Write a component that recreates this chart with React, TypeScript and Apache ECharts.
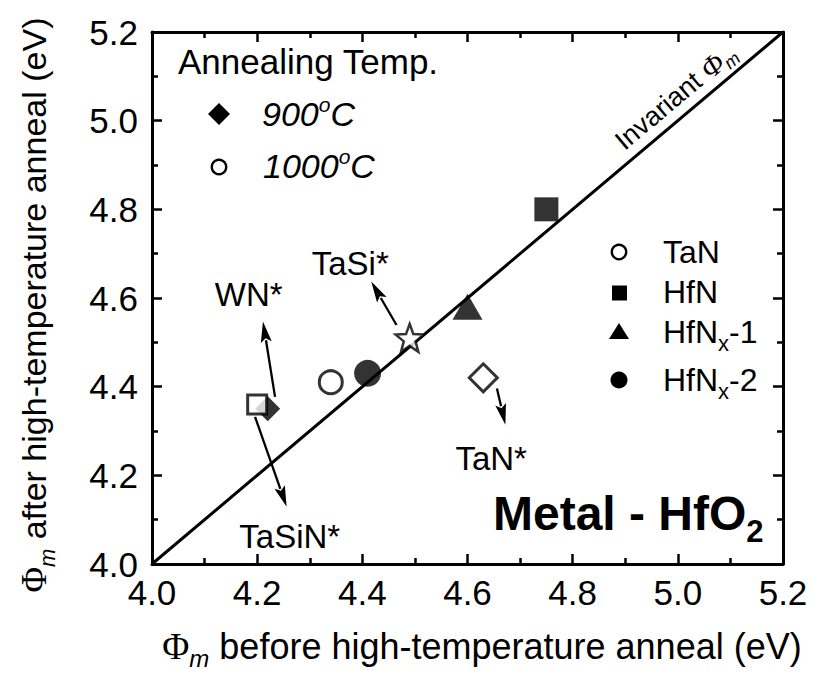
import React, { useEffect, useRef } from "react";
import * as echarts from "echarts";

// ---- data ----
const axisMin = 4.0;
const axisMax = 5.2;
const tickStep = 0.2;

const taN = [[4.34, 4.41]];
const hfN = [[4.75, 4.8]];
const hfNx1 = [[4.6, 4.58]];
const hfNx2 = [[4.41, 4.43]];
const wnStar = [[4.22, 4.35]];
const tasinStar = [[4.2, 4.36]];
const tasiStar = [[4.49, 4.51]];
const tanStar = [[4.63, 4.42]];
const invariantLine = [[4.0, 4.0], [5.2, 5.2]];
const invariantLabelAt = [5.02, 5.02];

// arrows: [fromX, fromY, toX, toY]
const arrowSegs = [
  [4.234, 4.377, 4.211, 4.547],
  [4.196, 4.332, 4.256, 4.129],
  [4.465, 4.539, 4.417, 4.637],
  [4.656, 4.396, 4.672, 4.314],
];
const noteLabels = ["WN*", "TaSiN*", "TaSi*", "TaN*"];
const notePos = [
  [4.184, 4.607],
  [4.262, 4.061],
  [4.377, 4.677],
  [4.645, 4.237],
];

const SANS = "'Liberation Sans', Arial, Helvetica, sans-serif";
const SERIF = "'Liberation Serif', 'Times New Roman', serif";

function starPath(): string {
  const pts: string[] = [];
  for (let i = 0; i < 10; i++) {
    const a = -Math.PI / 2 + (i * Math.PI) / 5;
    const r = i % 2 === 0 ? 50 : 21;
    pts.push(`${(50 + r * Math.cos(a)).toFixed(2)} ${(50 + r * Math.sin(a)).toFixed(2)}`);
  }
  return "path://M" + pts.join(" L") + " Z";
}

function axis(showLabel: boolean, position: string, isY: boolean) {
  return {
    type: "value",
    min: axisMin,
    max: axisMax,
    interval: tickStep,
    position,
    axisLine: { show: true, onZero: false, lineStyle: { color: "#000", width: 3 } },
    axisTick: { show: true, inside: true, length: 10, lineStyle: { color: "#000", width: 2.5 } },
    minorTick: { show: true, splitNumber: 2, length: 6, lineStyle: { color: "#000", width: 2.5 } },
    splitLine: { show: false },
    minorSplitLine: { show: false },
    axisLabel: {
      show: showLabel,
      fontSize: 35,
      fontFamily: SANS,
      color: "#000",
      margin: isY ? 14 : 11,
      formatter: (v: number) => v.toFixed(1),
    },
  };
}

const openStyle = { color: "#fff", borderColor: "#000", borderWidth: 3 };
const fillStyle = { color: "#000" };

function titleRich(size: number) {
  return {
    p: { fontSize: size + 1, fontFamily: SERIF, lineHeight: 48 },
    m: { fontSize: Math.round(size * 0.66), fontFamily: SANS, fontStyle: "italic", lineHeight: 18, verticalAlign: "bottom" },
  };
}

export default function App() {
  const ref = useRef<HTMLDivElement>(null);
  useEffect(() => {
    if (!ref.current) return;
    const chart = echarts.init(ref.current, undefined, { renderer: "svg" });
    const option: any = {
      animation: false,
      backgroundColor: "#fff",
      grid: { left: 152, right: 30, top: 32, bottom: 113, containLabel: false, outerBoundsMode: "none" },
      xAxis: [axis(true, "bottom", false), axis(false, "top", false)],
      yAxis: [axis(true, "left", true), axis(false, "right", true)],
      series: [
        {
          name: "Invariant",
          type: "line",
          data: invariantLine,
          symbol: "none",
          lineStyle: { color: "#000", width: 3 },
          z: 1,
          silent: true,
        },
        {
          name: "arrows",
          type: "custom",
          data: arrowSegs,
          encode: { x: [0, 2], y: [1, 3] },
          z: 2,
          silent: true,
          renderItem: (params: any, api: any) => {
            const p1 = api.coord([api.value(0), api.value(1)]);
            const p2 = api.coord([api.value(2), api.value(3)]);
            const dx = p2[0] - p1[0];
            const dy = p2[1] - p1[1];
            const len = Math.hypot(dx, dy);
            const ux = dx / len;
            const uy = dy / len;
            const headLen = 21;
            const headW = 5.5;
            const bx = p2[0] - ux * headLen;
            const by = p2[1] - uy * headLen;
            return {
              type: "group",
              children: [
                {
                  type: "line",
                  shape: { x1: p1[0], y1: p1[1], x2: bx + ux * 2, y2: by + uy * 2 },
                  style: { stroke: "#000", lineWidth: 2.3 },
                },
                {
                  type: "polygon",
                  shape: {
                    points: [
                      [p2[0], p2[1]],
                      [bx - uy * headW, by + ux * headW],
                      [bx + ux * 4, by + uy * 4],
                      [bx + uy * headW, by - ux * headW],
                    ],
                  },
                  style: { fill: "#000" },
                },
              ],
            };
          },
        },
        {
          name: "notes",
          type: "custom",
          data: notePos,
          z: 3,
          silent: true,
          renderItem: (params: any, api: any) => {
            const p = api.coord([api.value(0), api.value(1)]);
            return {
              type: "text",
              x: p[0],
              y: p[1],
              style: {
                text: noteLabels[params.dataIndex],
                fontSize: 33,
                fontFamily: SANS,
                fill: "#000",
                align: "center",
                verticalAlign: "middle",
              },
            };
          },
        },
        { name: "WN*", type: "scatter", data: wnStar, symbol: "diamond", symbolSize: 25, itemStyle: fillStyle, z: 4 },
        { name: "TaSiN*", type: "scatter", data: tasinStar, symbol: "rect", symbolSize: 19, itemStyle: openStyle, z: 5 },
        { name: "TaN", type: "scatter", data: taN, symbol: "circle", symbolSize: 23, itemStyle: openStyle, z: 5 },
        { name: "HfNx-2", type: "scatter", data: hfNx2, symbol: "circle", symbolSize: 27, itemStyle: fillStyle, z: 5 },
        { name: "TaSi*", type: "scatter", data: tasiStar, symbol: starPath(), symbolSize: 28, itemStyle: { color: "#fff", borderColor: "#000", borderWidth: 2.5 }, z: 5 },
        { name: "HfNx-1", type: "scatter", data: hfNx1, symbol: "triangle", symbolSize: [30, 26], itemStyle: fillStyle, z: 5 },
        { name: "TaN*", type: "scatter", data: tanStar, symbol: "diamond", symbolSize: 28, itemStyle: openStyle, z: 5 },
        { name: "HfN", type: "scatter", data: hfN, symbol: "rect", symbolSize: 24, itemStyle: fillStyle, z: 5 },
      ],
      graphic: [
        // axis titles
        {
          type: "text",
          x: 482,
          y: 646,
          style: {
            text: "{p|Φ}{m|m} before high-temperature anneal (eV)",
            fontSize: 36,
            fontFamily: SANS,
            fill: "#000",
            align: "center",
            verticalAlign: "middle",
            lineHeight: 48,
            rich: titleRich(36),
          },
        },
        {
          type: "text",
          x: 34,
          y: 305,
          rotation: Math.PI / 2,
          style: {
            text: "{p|Φ}{m|m} after high-temperature anneal (eV)",
            fontSize: 34,
            fontFamily: SANS,
            fill: "#000",
            align: "center",
            verticalAlign: "middle",
            lineHeight: 48,
            rich: titleRich(34),
          },
        },
        // annealing legend
        {
          type: "text",
          x: 178,
          y: 61,
          style: { text: "Annealing Temp.", fontSize: 35, fontFamily: SANS, fill: "#000", align: "left", verticalAlign: "middle" },
        },
        {
          type: "polygon",
          shape: { points: [[219, 103], [230, 114], [219, 125], [208, 114]] },
          style: { fill: "#000" },
        },
        {
          type: "text",
          x: 262,
          y: 114,
          style: {
            text: "900{s|o}C",
            fontSize: 34,
            fontStyle: "italic",
            fontFamily: SANS,
            fill: "#000",
            align: "left",
            verticalAlign: "middle",
            lineHeight: 40,
            rich: { s: { fontSize: 21, fontStyle: "italic", fontFamily: SANS, lineHeight: 16, verticalAlign: "top" } },
          },
        },
        {
          type: "circle",
          shape: { cx: 219, cy: 167, r: 7.2 },
          style: { fill: "#fff", stroke: "#000", lineWidth: 2.4 },
        },
        {
          type: "text",
          x: 263,
          y: 166,
          style: {
            text: "1000{s|o}C",
            fontSize: 34,
            fontStyle: "italic",
            fontFamily: SANS,
            fill: "#000",
            align: "left",
            verticalAlign: "middle",
            lineHeight: 40,
            rich: { s: { fontSize: 21, fontStyle: "italic", fontFamily: SANS, lineHeight: 16, verticalAlign: "top" } },
          },
        },
        // material legend
        {
          type: "circle",
          shape: { cx: 619, cy: 252, r: 7.2 },
          style: { fill: "#fff", stroke: "#000", lineWidth: 2.4 },
        },
        {
          type: "text",
          x: 663,
          y: 252,
          style: { text: "TaN", fontSize: 32, fontFamily: SANS, fill: "#000", align: "left", verticalAlign: "middle" },
        },
        { type: "rect", shape: { x: 612, y: 285.5, width: 15, height: 15 }, style: { fill: "#000" } },
        {
          type: "text",
          x: 663,
          y: 292,
          style: { text: "HfN", fontSize: 32, fontFamily: SANS, fill: "#000", align: "left", verticalAlign: "middle" },
        },
        { type: "polygon", shape: { points: [[619, 323], [629, 339], [609, 339]] }, style: { fill: "#000" } },
        {
          type: "text",
          x: 663,
          y: 332,
          style: {
            text: "HfN{x|x}-1",
            fontSize: 32,
            fontFamily: SANS,
            fill: "#000",
            align: "left",
            verticalAlign: "middle",
            lineHeight: 44,
            rich: { x: { fontSize: 22, fontFamily: SANS, lineHeight: 12, verticalAlign: "bottom" } },
          },
        },
        { type: "circle", shape: { cx: 619, cy: 380, r: 8.5 }, style: { fill: "#000" } },
        {
          type: "text",
          x: 663,
          y: 380,
          style: {
            text: "HfN{x|x}-2",
            fontSize: 32,
            fontFamily: SANS,
            fill: "#000",
            align: "left",
            verticalAlign: "middle",
            lineHeight: 44,
            rich: { x: { fontSize: 22, fontFamily: SANS, lineHeight: 12, verticalAlign: "bottom" } },
          },
        },
        // Metal - HfO2
        {
          type: "text",
          x: 493,
          y: 513,
          style: {
            text: "Metal - HfO{s|2}",
            fontSize: 48,
            fontWeight: "bold",
            fontFamily: SANS,
            fill: "#000",
            align: "left",
            verticalAlign: "middle",
            lineHeight: 68,
            rich: { s: { fontSize: 31, fontWeight: "bold", fontFamily: SANS, lineHeight: 22, verticalAlign: "bottom" } },
          },
        },
      ],
    };
    chart.setOption(option);

    // rotated label along the invariant line, positioned through the axes
    const pA = chart.convertToPixel({ gridIndex: 0 }, invariantLine[0]) as number[];
    const pB = chart.convertToPixel({ gridIndex: 0 }, invariantLine[1]) as number[];
    const pL = chart.convertToPixel({ gridIndex: 0 }, invariantLabelAt) as number[];
    const ang = Math.atan2(pA[1] - pB[1], pB[0] - pA[0]);
    const off = 2;
    const lx = pL[0] - Math.sin(ang) * off;
    const ly = pL[1] - Math.cos(ang) * off;
    chart.setOption({
      graphic: [
        ...option.graphic,
        {
          type: "text",
          x: lx,
          y: ly,
          rotation: ang,
          style: {
            text: "Invariant {p|Φ}{m|m}",
            fontSize: 27,
            fontFamily: SANS,
            fill: "#000",
            align: "center",
            verticalAlign: "bottom",
            lineHeight: 36,
            rich: {
              p: { fontSize: 29, fontFamily: SERIF, fontStyle: "italic", lineHeight: 36 },
              m: { fontSize: 18, fontFamily: SANS, fontStyle: "italic", lineHeight: 12, verticalAlign: "bottom" },
            },
          },
        },
      ],
    });

    return () => chart.dispose();
  }, []);
  return (
    <div
      ref={ref}
      style={{ position: "fixed", left: 0, top: 0, width: 813, height: 677, background: "#fff" }}
    />
  );
}
